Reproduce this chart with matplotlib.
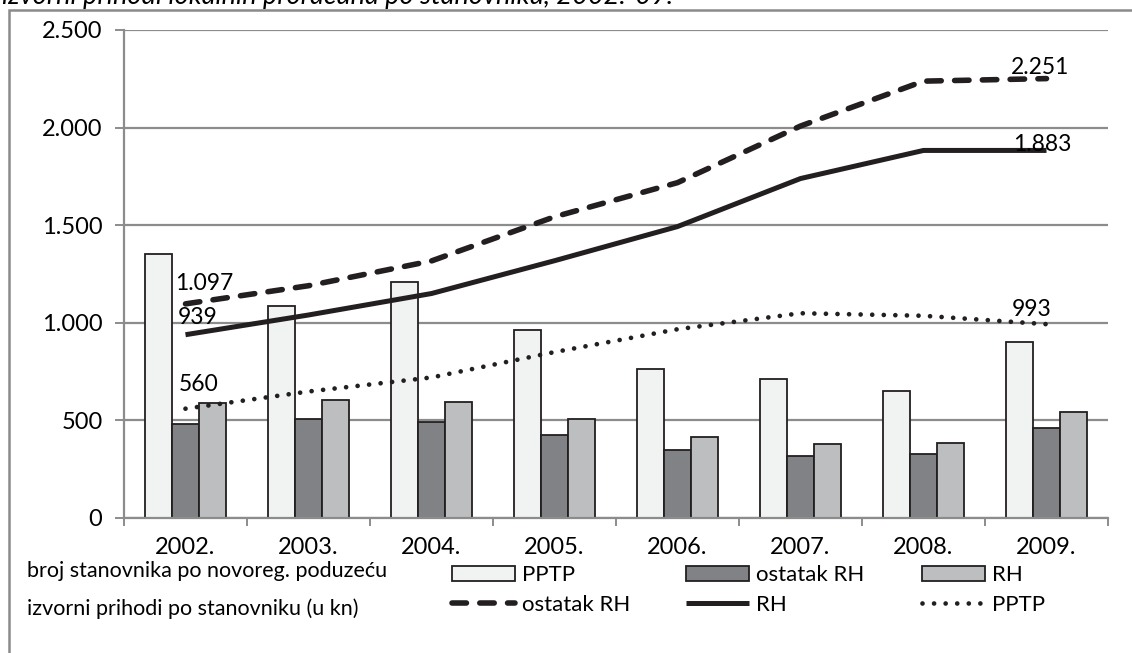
import numpy as np
import matplotlib
matplotlib.use("Agg")
import matplotlib.pyplot as plt
from matplotlib.patches import Rectangle
from matplotlib.ticker import FuncFormatter, FixedLocator

plt.rcParams['font.family'] = ['Lato', 'DejaVu Sans']

years = ["2002.", "2003.", "2004.", "2005.", "2006.", "2007.", "2008.", "2009."]
bar_pptp = [1354, 1087, 1210, 963, 763, 712, 653, 902]
bar_ostatak = [480, 509, 493, 426, 348, 316, 329, 463]
bar_rh = [591, 605, 596, 508, 415, 378, 385, 545]
line_ostatak = [1097, 1190, 1317, 1543, 1718, 2008, 2238, 2251]
line_rh = [939, 1040, 1150, 1318, 1493, 1739, 1883, 1883]
line_pptp = [560, 648, 720, 850, 967, 1049, 1036, 993]
yticks = [0, 500, 1000, 1500, 2000, 2500]

W, H = 1132, 653
fig = plt.figure(figsize=(W / 100, H / 100), dpi=100)
ax = fig.add_axes([124 / W, 1 - 518 / H, (1108 - 124) / W, (518 - 30) / H])

dark = '#231f20'
grid = '#8c8c8c'
c_pptp, c_ost, c_rh = '#f1f2f2', '#808285', '#bcbec0'
FS = 17

x = np.arange(len(years))
w = 0.22
b1 = ax.bar(x - w, bar_pptp, w, color=c_pptp, edgecolor=dark, lw=1.3, zorder=2)
b2 = ax.bar(x, bar_ostatak, w, color=c_ost, edgecolor=dark, lw=1.3, zorder=2)
b3 = ax.bar(x + w, bar_rh, w, color=c_rh, edgecolor=dark, lw=1.3, zorder=2)

l1, = ax.plot(x, line_ostatak, color=dark, lw=4.0, linestyle=(0, (2.6, 2.4)),
              dash_capstyle='round', zorder=3)
l2, = ax.plot(x, line_rh, color=dark, lw=3.6, solid_capstyle='butt',
              solid_joinstyle='round', zorder=3)
l3, = ax.plot(x, line_pptp, color=dark, lw=3.4, linestyle=(0, (0.001, 2.45)),
              dash_capstyle='round', zorder=3)

# data labels
lab = lambda v: f"{v:,}".replace(",", ".")
for series, o0, o1 in [(line_ostatak, (-10, 20), (-36, 11)),
                       (line_rh, (-8, 17), (-33, 6)),
                       (line_pptp, (-7, 24), (-35, 15))]:
    ax.annotate(lab(series[0]), (x[0], series[0]), xytext=o0, textcoords='offset pixels',
                ha='left', va='center', fontsize=16.5, color='black', zorder=4)
    ax.annotate(lab(series[-1]), (x[-1], series[-1]), xytext=o1, textcoords='offset pixels',
                ha='left', va='center', fontsize=16.5, color='black', zorder=4)

ax.set_xlim(-0.5, len(years) - 0.5)
ax.set_ylim(0, 2500)
ax.set_yticks(yticks)
ax.yaxis.set_major_formatter(FuncFormatter(lambda v, p: lab(int(v))))
ax.yaxis.grid(True, color=grid, lw=1.6)
ax.set_axisbelow(True)

ax.xaxis.set_major_locator(FixedLocator(np.arange(-0.5, len(years), 1)))
ax.xaxis.set_major_formatter(FuncFormatter(lambda v, p: ""))
ax.set_xticks(x, minor=True)
ax.set_xticklabels(years, minor=True)
ax.tick_params(axis='x', which='major', length=6, width=1.4, color=grid, direction='out')
ax.tick_params(axis='x', which='minor', length=0, pad=14, labelsize=FS)
ax.tick_params(axis='y', length=6.5, width=1.4, color=grid, pad=9, labelsize=FS)

for s in ['top', 'right']:
    ax.spines[s].set_visible(False)
for s in ['left', 'bottom']:
    ax.spines[s].set_color(grid)
    ax.spines[s].set_linewidth(1.6)

# outer frame (partly cropped, as in the source page)
fig.add_artist(Rectangle((8.5 / W, -0.05), 1.2, 1 - 10 / H + 0.05, transform=fig.transFigure,
                         fill=False, edgecolor='#8a8a8a', lw=1.8))

# title line of the page, cropped at the top edge as in the reference
fig.text(2 / W, 1 - 4 / H, "izvorni prihodi lokalnih proračuna po stanovniku, 2002.-09.",
         fontsize=19.5, style='italic', ha='left', va='baseline')

# legend
fig.text(27 / W, 1 - 571 / H, "broj stanovnika po novoreg. poduzeću", fontsize=15.5,
         ha='left', va='center')
fig.text(27 / W, 1 - 609 / H, "izvorni prihodi po stanovniku (u kn)", fontsize=15.5,
         ha='left', va='center')
cols = [(452, b1, 'PPTP', l1, 'ostatak RH'),
        (686, b2, 'ostatak RH', l2, 'RH'),
        (922, b3, 'RH', l3, 'PPTP')]
for xp, bh, bl, lh, ll in cols:
    fig.legend([bh, lh], [bl, ll], loc='center left',
               bbox_to_anchor=(xp / W, 1 - 590 / H), frameon=False,
               fontsize=16, handlelength=2.85, handleheight=0.6,
               handletextpad=0.3, labelspacing=0.42, borderpad=0, borderaxespad=0)

fig.savefig("out.png", dpi=100)
